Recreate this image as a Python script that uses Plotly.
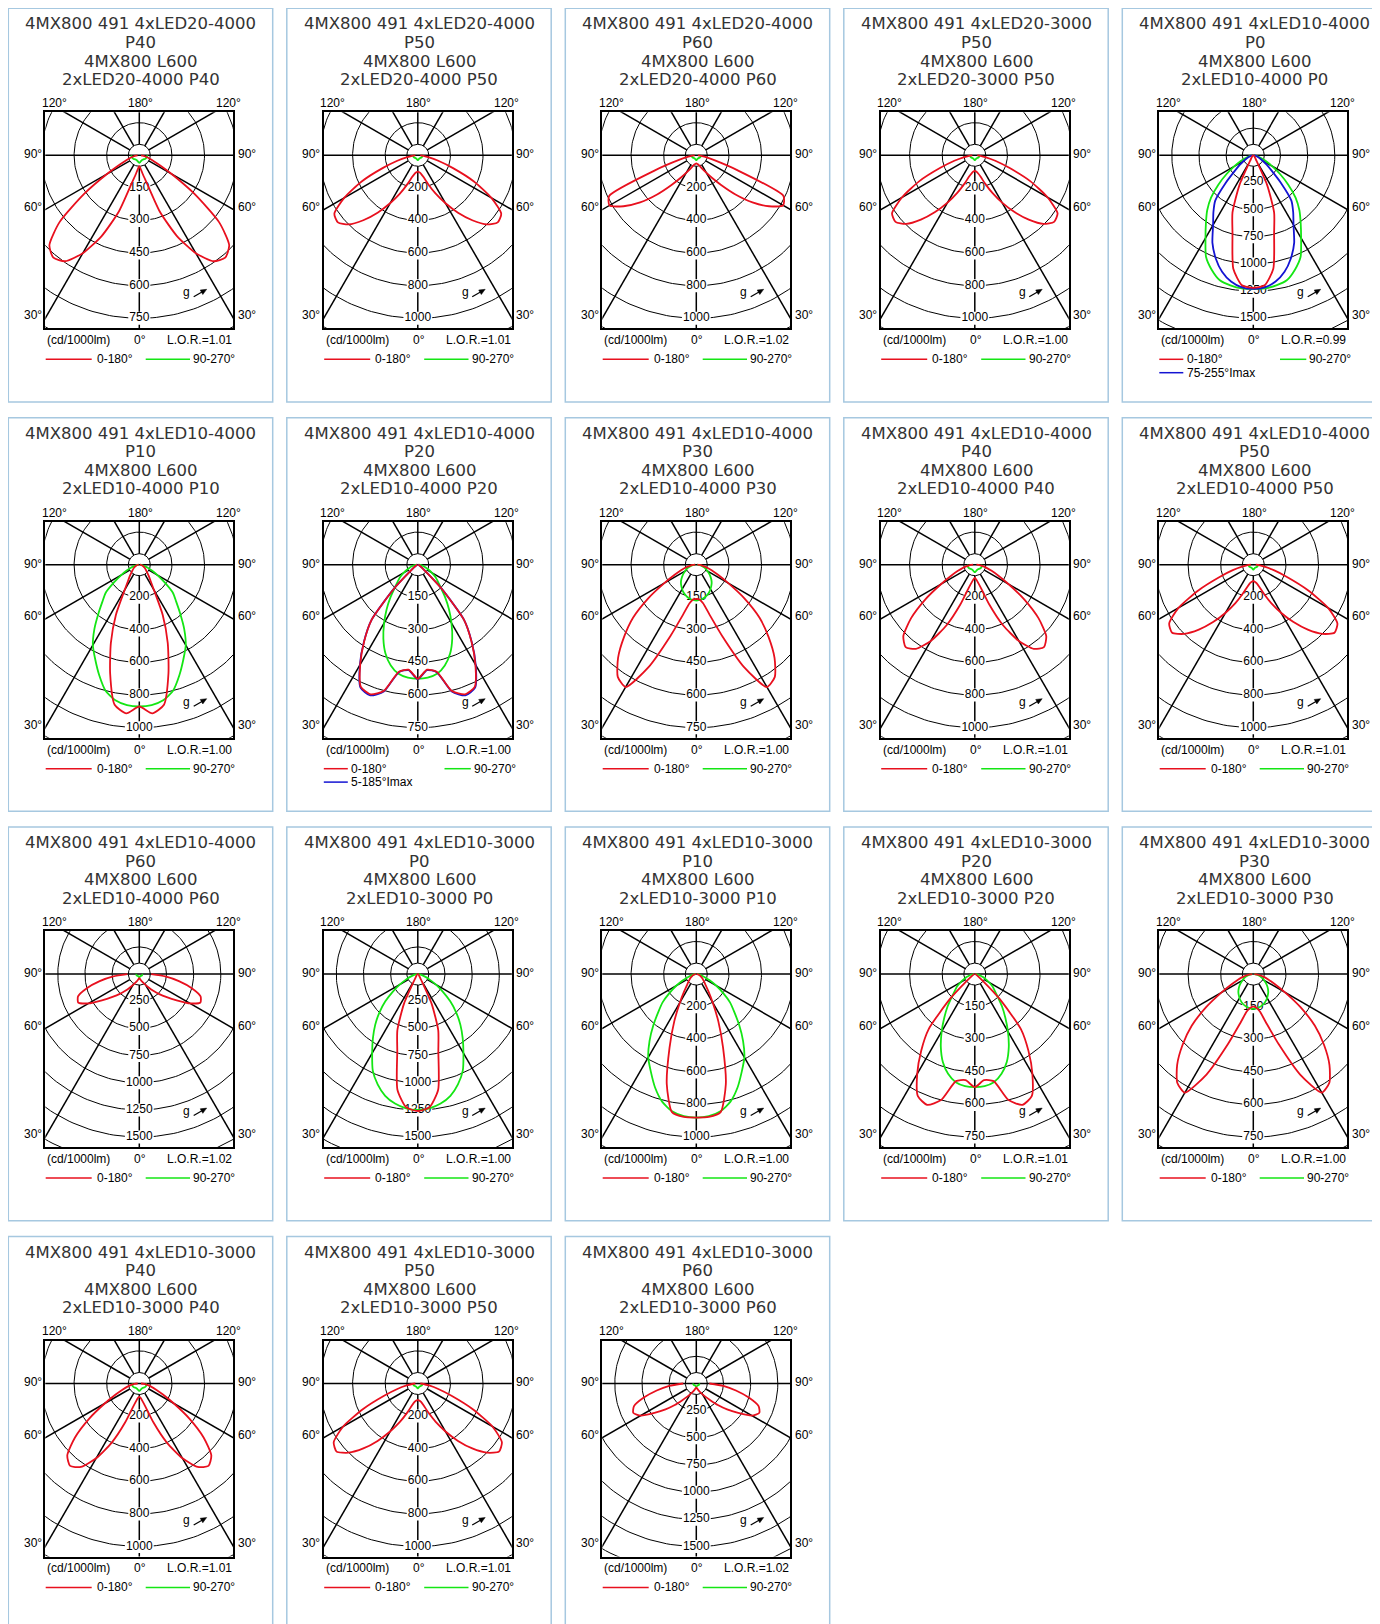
import numpy as np
import plotly.graph_objects as go

W, H = 1380, 1624

# ---------------- data ----------------
GAMMA = [0, 5, 10, 15, 20, 25, 30, 35, 40, 45, 50, 55, 60, 65, 70, 75, 80, 85, 90]

LED = ["LED20-4000", "LED20-4000", "LED20-4000", "LED20-3000",
       "LED10-4000", "LED10-4000", "LED10-4000", "LED10-4000", "LED10-4000", "LED10-4000", "LED10-4000",
       "LED10-3000", "LED10-3000", "LED10-3000", "LED10-3000", "LED10-3000", "LED10-3000", "LED10-3000"]
OPTIC = ["P40", "P50", "P60", "P50", "P0", "P10", "P20", "P30", "P40", "P50", "P60",
         "P0", "P10", "P20", "P30", "P40", "P50", "P60"]
SCALE_MAX = [750, 1000, 1000, 1000, 1500, 1000, 750, 750, 1000, 1000, 1500,
             1500, 1000, 750, 750, 1000, 1000, 1500]
SCALE_STEP = [150, 200, 200, 200, 250, 200, 150, 150, 200, 200, 250,
              250, 200, 150, 150, 200, 200, 250]
LOR = ["1.01", "1.01", "1.02", "1.00", "0.99", "1.00", "1.00", "1.00", "1.01", "1.01", "1.02",
       "1.00", "1.00", "1.01", "1.00", "1.01", "1.01", "1.02"]

# intensities (cd/1000lm) at GAMMA, plane 0-180 (red) and 90-270 (green)
RED_01 = [50, 60, 85, 130, 275, 410, 520, 595, 615, 585, 480, 310, 170, 95, 60, 40, 25, 15, 8]
GREEN_01 = [35, 33, 30, 28, 27, 26, 25, 25, 26, 27, 28, 30, 32, 33, 34, 35, 36, 36, 35]
RED_02 = [100, 105, 115, 140, 190, 260, 340, 430, 520, 600, 640, 625, 520, 380, 230, 130, 70, 35, 15]
GREEN_02 = [30, 28, 26, 24, 23, 22, 22, 22, 22, 23, 24, 25, 26, 27, 28, 28, 28, 27, 25]
RED_03 = [50, 52, 56, 62, 75, 95, 125, 170, 240, 340, 450, 545, 615, 590, 270, 110, 50, 25, 10]
GREEN_03 = [30, 28, 26, 24, 23, 22, 22, 22, 22, 23, 24, 25, 26, 27, 28, 28, 28, 27, 25]
RED_04 = [95, 100, 112, 135, 185, 255, 335, 425, 515, 595, 635, 620, 515, 375, 225, 130, 70, 35, 15]
GREEN_04 = [30, 28, 26, 24, 23, 22, 22, 22, 22, 23, 24, 25, 26, 27, 28, 28, 28, 27, 25]
RED_05 = [1220, 1200, 1060, 740, 560, 300, 60, 30, 20, 15, 12, 10, 8, 6, 5, 4, 3, 2, 1]
GREEN_05 = [1230, 1230, 1215, 1190, 1120, 1030, 880, 760, 660, 550, 420, 300, 200, 130, 80, 50, 25, 12, 5]
BLUE_05 = [1230, 1220, 1180, 1110, 1010, 890, 740, 640, 545, 360, 220, 150, 100, 65, 45, 30, 18, 10, 4]
RED_06 = [870, 915, 872, 691, 510, 340, 180, 120, 90, 70, 55, 45, 38, 30, 24, 18, 12, 8, 4]
GREEN_06 = [870, 865, 845, 800, 720, 640, 570, 480, 390, 320, 270, 190, 130, 85, 55, 35, 20, 10, 5]
RED_07 = [525, 485, 500, 600, 635, 620, 530, 430, 330, 150, 40, 20, 12, 8, 6, 5, 4, 3, 2]
BLUE_07 = [527, 487, 502, 604, 640, 624, 533, 432, 331, 151, 41, 20, 12, 8, 6, 5, 4, 3, 2]
GREEN_07 = [525, 522, 510, 480, 435, 375, 310, 250, 196, 150, 120, 100, 75, 55, 40, 28, 18, 10, 4]
RED_08 = [157, 160, 180, 240, 350, 520, 650, 630, 560, 470, 380, 270, 170, 110, 75, 50, 30, 15, 5]
GREEN_08 = [165, 163, 160, 155, 148, 140, 130, 120, 110, 98, 85, 72, 60, 50, 40, 30, 20, 12, 5]
RED_09 = [80, 90, 110, 150, 260, 410, 540, 630, 660, 620, 510, 370, 240, 160, 110, 75, 50, 30, 10]
GREEN_09 = [45, 43, 40, 38, 36, 35, 34, 34, 35, 36, 38, 40, 42, 43, 44, 44, 43, 42, 40]
RED_10 = [100, 105, 115, 140, 190, 260, 340, 430, 520, 600, 650, 630, 530, 370, 220, 130, 70, 35, 15]
GREEN_10 = [30, 28, 26, 24, 23, 22, 22, 22, 22, 23, 24, 25, 26, 27, 28, 28, 28, 27, 25]
RED_11 = [37, 40, 48, 58, 72, 90, 115, 150, 200, 260, 330, 420, 540, 620, 600, 500, 370, 240, 110]
GREEN_11 = [30, 28, 26, 24, 23, 22, 22, 22, 22, 23, 24, 25, 26, 27, 28, 28, 28, 27, 25]
RED_12 = [1260, 1230, 1080, 730, 550, 300, 60, 30, 20, 15, 12, 10, 8, 6, 5, 4, 3, 2, 1]
GREEN_12 = [1250, 1240, 1210, 1160, 1080, 980, 840, 720, 610, 500, 390, 280, 190, 120, 75, 45, 25, 12, 5]
RED_13 = [880, 880, 860, 700, 480, 320, 200, 130, 90, 70, 55, 45, 35, 28, 22, 16, 10, 6, 3]
GREEN_13 = [880, 875, 855, 810, 740, 660, 590, 500, 410, 330, 270, 200, 140, 90, 55, 35, 20, 10, 5]
RED_14 = [520, 490, 500, 600, 640, 620, 530, 430, 330, 160, 45, 20, 12, 8, 6, 5, 4, 3, 2]
GREEN_14 = [520, 517, 505, 475, 430, 370, 305, 245, 195, 150, 120, 100, 75, 55, 40, 28, 18, 10, 4]
RED_15 = [150, 155, 175, 235, 345, 510, 630, 610, 545, 460, 370, 265, 170, 110, 75, 50, 30, 15, 5]
GREEN_15 = [160, 158, 155, 150, 144, 136, 127, 117, 107, 95, 83, 70, 58, 48, 38, 28, 19, 11, 5]
RED_16 = [80, 88, 108, 148, 255, 400, 530, 625, 660, 625, 515, 375, 245, 160, 110, 75, 50, 30, 10]
GREEN_16 = [45, 43, 40, 38, 36, 35, 34, 34, 35, 36, 38, 40, 42, 43, 44, 44, 43, 42, 40]
RED_17 = [100, 105, 115, 140, 190, 260, 340, 430, 520, 600, 650, 630, 530, 370, 220, 130, 70, 35, 15]
GREEN_17 = [30, 28, 26, 24, 23, 22, 22, 22, 22, 23, 24, 25, 26, 27, 28, 28, 28, 27, 25]
RED_18 = [37, 40, 48, 58, 72, 90, 115, 150, 200, 280, 370, 470, 590, 640, 610, 500, 370, 250, 120]
GREEN_18 = [30, 28, 26, 24, 23, 22, 22, 22, 22, 23, 24, 25, 26, 27, 28, 28, 28, 27, 25]

RED = [RED_01, RED_02, RED_03, RED_04, RED_05, RED_06, RED_07, RED_08, RED_09,
       RED_10, RED_11, RED_12, RED_13, RED_14, RED_15, RED_16, RED_17, RED_18]
GREEN = [GREEN_01, GREEN_02, GREEN_03, GREEN_04, GREEN_05, GREEN_06, GREEN_07, GREEN_08, GREEN_09,
         GREEN_10, GREEN_11, GREEN_12, GREEN_13, GREEN_14, GREEN_15, GREEN_16, GREEN_17, GREEN_18]
BLUE = {4: BLUE_05, 6: BLUE_07}
BLUE_LABEL = {4: "75-255°Imax", 6: "5-185°Imax"}

# ---------------- style / geometry (pixels) ----------------
C_RED, C_GREEN, C_BLUE = "#e8101e", "#14e614", "#1414d2"
BORDER = "#a6c8e0"
TFONT = "DejaVu Sans"
SFONT = "Liberation Sans, Arial, sans-serif"
PX0, PY0, DXP, DYP, PW, PH = 0.3, 0.3, 278.5, 409.4, 264.4, 393.6
FL, FR, FT, FB, CXP, CYP = 37.0, 225.0, 104.0, 320.0, 131.0, 147.0
RPX = 163.0          # pixels for the scale maximum
R0 = 11.0 / RPX      # inner small circle

XR = [(FL - CXP) / RPX, (FR - CXP) / RPX]
YR = [-(FB - CYP) / RPX, (CYP - FT) / RPX]


def px(x):
    return x / W


def py(y):
    return 1 - y / H


fig = go.Figure()
layout = dict(width=W, height=H, margin=dict(l=0, r=0, t=0, b=0),
              paper_bgcolor="white", plot_bgcolor="white", showlegend=False)
ann = []
shp = []

th = np.linspace(0, 2 * np.pi, 241)


def polar_xy(vals, imax):
    g = np.radians(np.array(GAMMA, dtype=float))
    r = np.array(vals, dtype=float) / imax
    xl = -r[::-1] * np.sin(g[::-1])
    yl = -r[::-1] * np.cos(g[::-1])
    xr = r[1:] * np.sin(g[1:])
    yr = -r[1:] * np.cos(g[1:])
    return np.concatenate([xl, xr]), np.concatenate([yl, yr])


for i in range(18):
    n = i + 1
    sfx = "" if n == 1 else str(n)
    xa, ya = "x" + sfx, "y" + sfx
    col, row = i % 5, i // 5
    ox, oy = PX0 + col * DXP, PY0 + row * DYP
    imax, step = SCALE_MAX[i], SCALE_STEP[i]
    nr = imax // step

    layout["xaxis" + sfx] = dict(domain=[px(ox + FL), px(ox + FR)], range=XR, anchor=ya,
                                 showgrid=False, zeroline=False, showticklabels=False, ticks="",
                                 showline=True, mirror=True, linecolor="black", linewidth=2.2,
                                 fixedrange=True)
    layout["yaxis" + sfx] = dict(domain=[py(oy + FB), py(oy + FT)], range=YR, anchor=xa,
                                 showgrid=False, zeroline=False, showticklabels=False, ticks="",
                                 showline=True, mirror=True, linecolor="black", linewidth=2.2,
                                 fixedrange=True)

    # grid circles
    gx, gy = [], []
    radii = [R0] + [k * step / imax for k in range(1, nr + 3)]
    for rr in radii:
        gx += list(rr * np.cos(th)) + [None]
        gy += list(rr * np.sin(th)) + [None]
    fig.add_trace(go.Scatter(x=gx, y=gy, xaxis=xa, yaxis=ya, mode="lines",
                             line=dict(color="black", width=1), hoverinfo="skip"))
    # spokes
    sx, sy = [], []
    for a in [30, 60, 120, 150]:
        ar = np.radians(a)
        for s in (-1, 1):
            sx += [s * R0 * np.sin(ar), s * 2 * np.sin(ar), None]
            sy += [-R0 * np.cos(ar), -2 * np.cos(ar), None]
    sx += [0, 0, None, 0, 0, None, -2, 2, None]
    sy += [R0, 2, None, -R0, -2, None, 0, 0, None]
    fig.add_trace(go.Scatter(x=sx, y=sy, xaxis=xa, yaxis=ya, mode="lines",
                             line=dict(color="black", width=1.5), hoverinfo="skip"))
    # label boxes and labels on the 0 deg axis
    bx, by, lx, ly, lt = [], [], [], [], []
    for k in range(1, nr + 1):
        v = k * step
        yv = -v / imax
        wpx = 6.7 * len(str(v)) + 2
        hw, hh = wpx / 2 / RPX, 6.5 / RPX
        bx += [-hw, hw, hw, -hw, -hw, None]
        by += [yv - hh, yv - hh, yv + hh, yv + hh, yv - hh, None]
        lx.append(0)
        ly.append(yv)
        lt.append(str(v))
    fig.add_trace(go.Scatter(x=bx, y=by, xaxis=xa, yaxis=ya, mode="lines", fill="toself",
                             fillcolor="white", line=dict(width=0, color="white"), hoverinfo="skip"))
    fig.add_trace(go.Scatter(x=lx, y=ly, xaxis=xa, yaxis=ya, mode="text", text=lt,
                             textposition="middle center",
                             textfont=dict(family=SFONT, size=12, color="black"), hoverinfo="skip"))
    # curves
    curves = [(GREEN[i], C_GREEN)]
    if i in BLUE:
        curves.append((BLUE[i], C_BLUE))
    curves.append((RED[i], C_RED))
    for vals, c in curves:
        cx, cy = polar_xy(vals, imax)
        fig.add_trace(go.Scatter(x=cx, y=cy, xaxis=xa, yaxis=ya, mode="lines",
                                 line=dict(color=c, width=1.8, shape="spline", smoothing=0.6),
                                 hoverinfo="skip"))

    # panel border
    shp.append(dict(type="rect", xref="paper", yref="paper",
                    x0=px(ox), x1=px(ox + PW), y0=py(oy + PH), y1=py(oy),
                    line=dict(color=BORDER, width=1.5)))

    # title
    tl = [f"4MX800 491 4x{LED[i]}", OPTIC[i], "4MX800 L600", f"2x{LED[i]} {OPTIC[i]}"]
    for k, t in enumerate(tl):
        ann.append(dict(x=px(ox + PW / 2), y=py(oy + 15.7 + 18.5 * k), xref="paper", yref="paper",
                        text=t, showarrow=False, xanchor="center", yanchor="middle",
                        font=dict(family=TFONT, size=16.5, color="#333333")))

    def lab(x, y, t, xa_="center"):
        ann.append(dict(x=px(ox + x), y=py(oy + y), xref="paper", yref="paper", text=t,
                        showarrow=False, xanchor=xa_, yanchor="middle",
                        font=dict(family=SFONT, size=12, color="black")))

    deg = "°"
    lab(46, 95, "120" + deg)
    lab(CXP + 1, 95, "180" + deg)
    lab(220, 95, "120" + deg)
    for t, yy in (("90", 146), ("60", 198.5), ("30", 307)):
        lab(35.5, yy, t + deg, "right")
        lab(227.5, yy, t + deg, "left")
    lab(CXP + 1, 332, "0" + deg)
    lab(FL, 332, "(cd/1000lm)", "left")
    lab(FR + 1, 332, "L.O.R.=" + LOR[i], "right")
    lab(178.4, 284, "g")
    # arrow next to g
    hx, hy, tx, ty = ox + 198.4, oy + 281.0, ox + 185.4, oy + 288.5
    shp.append(dict(type="line", xref="paper", yref="paper", x0=px(tx), y0=py(ty),
                    x1=px(hx - 3), y1=py(hy + 1.7), line=dict(color="black", width=1.2)))
    ux, uy = (hx - tx), (hy - ty)
    L = (ux ** 2 + uy ** 2) ** 0.5
    ux, uy = ux / L, uy / L
    bxp, byp = hx - 6 * ux, hy - 6 * uy
    p1 = (bxp - 2.6 * uy, byp + 2.6 * ux)
    p2 = (bxp + 2.6 * uy, byp - 2.6 * ux)
    shp.append(dict(type="path", xref="paper", yref="paper",
                    path=f"M {px(hx)} {py(hy)} L {px(p1[0])} {py(p1[1])} L {px(p2[0])} {py(p2[1])} Z",
                    fillcolor="black", line=dict(color="black", width=0.5)))

    # legend
    if i in BLUE:
        r0, r1, rt, g0, g1, gt = 37.0, 61.0, 62.5, 157.7, 184.0, 185.0
        shp.append(dict(type="line", xref="paper", yref="paper", x0=px(ox + 37), x1=px(ox + 61),
                        y0=py(oy + 364.4), y1=py(oy + 364.4), line=dict(color=C_BLUE, width=1.5)))
        lab(62.5, 364.4, BLUE_LABEL[i], "left")
    else:
        r0, r1, rt, g0, g1, gt = 37.4, 83.4, 86.5, 137.4, 181.7, 183.0
    shp.append(dict(type="line", xref="paper", yref="paper", x0=px(ox + r0), x1=px(ox + r1),
                    y0=py(oy + 351), y1=py(oy + 351), line=dict(color=C_RED, width=1.5)))
    shp.append(dict(type="line", xref="paper", yref="paper", x0=px(ox + g0), x1=px(ox + g1),
                    y0=py(oy + 351), y1=py(oy + 351), line=dict(color=C_GREEN, width=1.5)))
    lab(rt, 351, "0-180" + deg, "left")
    lab(gt, 351, "90-270" + deg, "left")

layout["annotations"] = ann
layout["shapes"] = shp
fig.update_layout(**layout)
fig.write_html("out.html")
